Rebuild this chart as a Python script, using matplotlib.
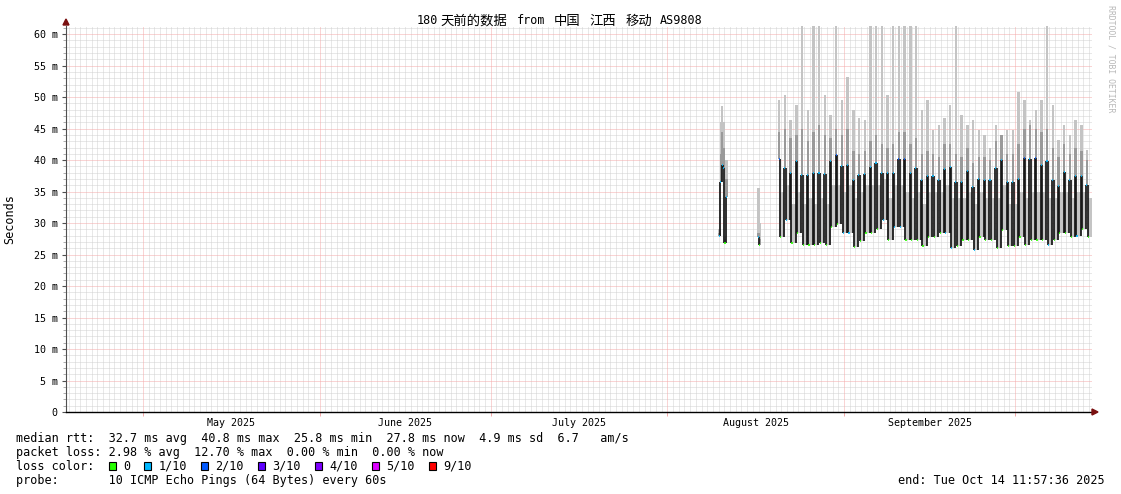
import numpy as np
import matplotlib
matplotlib.use('Agg')
import matplotlib.pyplot as plt
import matplotlib.dates as mdates
from matplotlib.patches import Rectangle, Polygon
from datetime import datetime, timedelta

# ---------------- data ----------------
title_parts = ["180", "天前的数据", "from", "中国", "江西", "移动", "AS9808"]
title_cells = [(0, 3), (3, 10), (14, 4), (19, 4), (24, 4), (29, 4), (34, 6)]  # (start cell, width cells)
y_ticks = [0, 5, 10, 15, 20, 25, 30, 35, 40, 45, 50, 55, 60]
y_tick_labels = ["0", "5 m", "10 m", "15 m", "20 m", "25 m", "30 m", "35 m",
                 "40 m", "45 m", "50 m", "55 m", "60 m"]
month_labels = ["May 2025", "June 2025", "July 2025", "August 2025", "September 2025"]

# segment 1: 6-hour steps from 2025-08-10 00:00
seg1_median = [27.9, 36.5, 39.2, 38.8, 26.8, 34.1]
seg1_dark = [28.5, 41.0, 44.4, 42.0, 27.5, 37.0]
seg1_max = [29.0, 46.0, 48.6, 46.0, 28.0, 40.0]
seg1_loss = [1, 1, 1, 1, 0, 1]

# segment 2: 6-hour steps from 2025-08-16 21:00
seg2_median = [27.8, 26.5]
seg2_dark = [28.5, 27.5]
seg2_max = [35.5, 30.0]
seg2_loss = [1, 0]

# segment 3: daily from 2025-08-20 12:00 (short evening peak, then long low)
med_hi = [40.2, 38.8, 37.9, 39.8, 37.6, 37.7, 37.9, 38.0, 37.8, 39.9,
          40.8, 39.0, 39.2, 36.8, 37.6, 37.8, 38.9, 39.6, 37.9, 38.0,
          37.9, 40.2, 40.2, 37.9, 38.8, 36.8, 37.4, 37.4, 36.8, 38.6,
          38.9, 36.5, 36.6, 38.3, 35.8, 37.0, 36.8, 36.8, 38.8, 40.0,
          36.6, 36.6, 37.0, 40.3, 40.2, 40.3, 39.2, 39.8, 36.8, 35.9,
          38.1, 36.9, 37.5, 37.4, 36.0]
med_lo = [27.8, 30.5, 26.8, 28.4, 26.6, 26.6, 26.6, 26.8, 26.6, 29.4,
          29.8, 28.4, 28.4, 26.2, 27.2, 28.4, 28.4, 29.0, 30.5, 27.3,
          29.4, 29.4, 27.3, 27.3, 27.3, 26.3, 27.8, 27.8, 28.4, 28.4,
          26.0, 26.3, 27.3, 27.3, 25.8, 27.8, 27.3, 27.3, 26.0, 28.9,
          26.3, 26.3, 27.8, 26.5, 27.3, 27.3, 27.3, 26.5, 27.3, 28.4,
          28.4, 27.8, 28.0, 29.0, 27.8]
smoke_max_hi = [49.5, 50.3, 46.3, 48.7, 61.5, 47.9, 61.5, 61.5, 50.3, 47.1,
                61.5, 49.5, 53.2, 47.9, 46.7, 46.3, 61.5, 61.5, 61.5, 50.3,
                61.5, 61.5, 61.5, 61.5, 61.5, 47.9, 49.5, 44.8, 45.6, 46.7,
                48.7, 61.5, 47.1, 45.6, 46.3, 44.8, 44.0, 42.0, 45.6, 43.2,
                44.8, 44.8, 50.8, 49.5, 46.3, 47.9, 49.5, 61.5, 48.7, 43.2,
                45.6, 44.0, 46.3, 45.6, 41.6]
smoke_dark_hi = [44.5, 45.0, 43.5, 44.0, 45.0, 43.0, 44.5, 45.5, 44.0, 43.5,
                 45.0, 44.0, 45.0, 41.5, 41.0, 41.5, 43.0, 44.0, 42.5, 42.0,
                 42.5, 44.5, 44.5, 42.5, 43.5, 41.0, 41.5, 41.0, 40.5, 42.5,
                 42.5, 41.0, 40.5, 42.0, 39.5, 40.5, 40.5, 40.0, 43.0, 44.0,
                 41.0, 41.0, 42.5, 45.0, 45.5, 45.0, 44.5, 45.0, 42.0, 40.5,
                 42.5, 41.0, 42.0, 41.5, 40.0]
smoke_max_lo = [35, 36, 33, 35, 33, 34, 33, 34, 33, 36,
                36, 35, 36, 34, 35, 36, 36, 36, 37, 34,
                36, 36, 35, 34, 35, 33, 35, 35, 35, 36,
                34, 34, 34, 35, 33, 35, 34, 34, 34, 36,
                33, 33, 35, 34, 35, 35, 35, 34, 34, 35,
                35, 34, 35, 35, 34]
loss_hi = [2, 1, 1, 1, 1, 1, 1, 1, 1, 1,
           2, 1, 1, 1, 1, 1, 1, 1, 1, 1,
           1, 2, 2, 1, 1, 1, 1, 1, 1, 1,
           1, 1, 1, 1, 1, 1, 1, 1, 1, 1,
           1, 1, 1, 2, 1, 2, 1, 1, 1, 1,
           1, 1, 1, 1, 1]
loss_lo = [0, 1, 0, 0, 0, 0, 0, 0, 0, 0,
           0, 1, 1, 0, 0, 0, 0, 0, 1, 0,
           1, 1, 0, 0, 0, 0, 0, 0, 0, 1,
           1, 0, 0, 0, 1, 0, 0, 0, 0, 0,
           0, 0, 0, 0, 0, 0, 0, 1, 0, 0,
           0, 0, 1, 0, 0]

loss_levels = [0, 1, 2, 3, 4, 5, 9]
loss_names = ["0", "1/10", "2/10", "3/10", "4/10", "5/10", "9/10"]
loss_colors = ["#26ff00", "#00b8ff", "#0059ff", "#5e00ff", "#7e00ff", "#dd00ff", "#ff0000"]

legend_lines = [
    "median rtt:  32.7 ms avg  40.8 ms max  25.8 ms min  27.8 ms now  4.9 ms sd  6.7   am/s",
    "packet loss: 2.98 % avg  12.70 % max  0.00 % min  0.00 % now",
    "loss color:",
    "probe:       10 ICMP Echo Pings (64 Bytes) every 60s",
]
end_text = "end: Tue Oct 14 11:57:36 2025"

# ---------------- figure ----------------
W, H = 1121, 494
fig = plt.figure(figsize=(W / 100, H / 100), dpi=100)
fig.patch.set_facecolor('white')
MONO = 'DejaVu Sans Mono'
CJK = 'Noto Sans CJK SC'

def fx(x):
    return x / W

def fy(y):
    return 1 - y / H

L, R, T, B = 66, 1092, 26, 412
ax = fig.add_axes([fx(L), fy(B), (R - L) / W, (B - T) / H])
ax.set_facecolor('white')

t_start = datetime(2025, 4, 17, 11, 57, 36)
t_end = datetime(2025, 10, 14, 11, 57, 36)
x0, x1 = mdates.date2num(t_start), mdates.date2num(t_end)
ax.set_xlim(x0, x1)
ax.set_ylim(0, 61.3)

MINOR_C = '#d2d2d2'
MAJOR_C = '#f4aaaa'
dot = (0, (1, 1))
for v in range(1, 62):
    if v % 5:
        ax.axhline(v, color=MINOR_C, lw=0.72, ls=dot, zorder=0)
d = datetime(2025, 4, 18)
while d < t_end:
    if d.day != 1:
        ax.axvline(mdates.date2num(d), color=MINOR_C, lw=0.72, ls=dot, zorder=0)
    d += timedelta(days=1)
for v in range(5, 62, 5):
    ax.axhline(v, color=MAJOR_C, lw=0.72, ls=dot, zorder=1)
month_starts = [datetime(2025, m, 1) for m in range(5, 11)]
for m in month_starts:
    ax.axvline(mdates.date2num(m), color=MAJOR_C, lw=0.72, ls=dot, zorder=1)

# ---------------- smoke + median ----------------
LIGHT = '#c4c4c4'
DARK = '#9a9a9a'
MED_C = '#151515'
cmap = dict(zip(loss_levels, loss_colors))
CAP = 5.0 / 24      # length of the coloured median mark (days)
SMOKE_W = 0.42      # minimum width of a smoke column (days)

def draw_series(tb, med, dark, mx, loss):
    """tb: n+1 boundaries (matplotlib date numbers)"""
    med = np.asarray(med, float)
    dark = np.asarray(dark, float)
    mx = np.asarray(mx, float)
    tb = np.asarray(tb, float)
    w = np.diff(tb)
    centers = tb[:-1] + w / 2
    sw = np.maximum(w, SMOKE_W)
    # light smoke for long periods first, then peak columns on top
    order = np.argsort(-w)
    ax.bar(centers[order], (mx - med)[order], bottom=med[order], width=sw[order],
           align='center', color=LIGHT, linewidth=0, zorder=2)
    ax.bar(centers, np.maximum(dark - med, 0), bottom=med, width=sw,
           align='center', color=DARK, linewidth=0, zorder=3)
    ax.vlines(tb[1:-1], med[:-1], med[1:], color=MED_C, lw=1.25, zorder=4)
    ax.hlines(med, tb[:-1], tb[:-1] + np.minimum(w, CAP),
              colors=[cmap[l] for l in loss], lw=1.2, zorder=5)

def regular(t0, step_h, n):
    return mdates.date2num(t0) + np.arange(n + 1) * step_h / 24.0

draw_series(regular(datetime(2025, 8, 10, 0, 0), 6, len(seg1_median)),
            seg1_median, seg1_dark, seg1_max, seg1_loss)
draw_series(regular(datetime(2025, 8, 16, 21, 0), 6, len(seg2_median)),
            seg2_median, seg2_dark, seg2_max, seg2_loss)

PEAK_H = 6.0  # duration of each evening peak (hours)
days = mdates.date2num(datetime(2025, 8, 20, 12, 0)) + np.arange(len(med_hi))
tb3 = np.append(np.column_stack([days, days + PEAK_H / 24]).ravel(), mdates.date2num(t_end))
med3 = np.column_stack([med_hi, med_lo]).ravel()
dark3 = np.column_stack([smoke_dark_hi, med_lo]).ravel()
max3 = np.column_stack([smoke_max_hi, smoke_max_lo]).ravel()
loss3 = np.column_stack([loss_hi, loss_lo]).ravel()
draw_series(tb3, med3, dark3, max3, loss3)

# ---------------- axes styling ----------------
for s in ['top', 'right']:
    ax.spines[s].set_visible(False)
ax.spines['left'].set_color('#505050')
ax.spines['left'].set_linewidth(0.8)
ax.spines['bottom'].set_color('black')
ax.spines['bottom'].set_linewidth(1.0)
ax.spines['left'].set_zorder(6)
ax.spines['bottom'].set_zorder(6)

ax.set_yticks(y_ticks)
ax.set_yticklabels(y_tick_labels, family=MONO, fontsize=7.2)
ax.set_yticks(range(1, 62), minor=True)
ax.tick_params(axis='y', which='major', length=3, width=0.8, color='#505050', pad=3)
ax.tick_params(axis='y', which='minor', length=2, width=0.6, color='#a0a0a0')

mid_months = [mdates.date2num(m) + (15.5 if m.month in (5, 7, 8) else 15.0)
              for m in month_starts[:5]]
ax.set_xticks(mid_months)
ax.set_xticklabels(month_labels, family=MONO, fontsize=7.2)
ax.tick_params(axis='x', which='major', length=0, pad=4)
ax.set_xticks([mdates.date2num(m) for m in month_starts], minor=True)
ax.tick_params(axis='x', which='minor', length=3, width=0.7, color=MAJOR_C)

# arrows
fig.patches.append(Polygon([(fx(L - 3), fy(25)), (fx(L + 3), fy(25)), (fx(L), fy(19))],
                           closed=True, transform=fig.transFigure, color='#7a1010', zorder=10))
fig.patches.append(Polygon([(fx(R), fy(409)), (fx(R), fy(415)), (fx(R + 6), fy(412))],
                           closed=True, transform=fig.transFigure, color='#7a1010', zorder=10))

# ---------------- texts ----------------
CW = 7.15
TX = 417
for part, (c0, nc) in zip(title_parts, title_cells):
    is_cjk = any(ord(ch) > 0x2E80 for ch in part)
    fig.text(fx(TX + (c0 + nc / 2) * CW), fy(21), part, ha='center', va='center',
             fontsize=9.6 if is_cjk else 8.5, family=[MONO, CJK])
fig.text(fx(10), fy(219), "Seconds", rotation=90, ha='center', va='center',
         fontsize=8.5, family=MONO)
fig.text(fx(1111), fy(5), "RRDTOOL / TOBI OETIKER", rotation=270, ha='center', va='top',
         fontsize=5.9, family=MONO, color='#b8b8b8')

LX = 16
line_y = [438, 452, 466, 480]
for txt, yy in zip(legend_lines, line_y):
    fig.text(fx(LX), fy(yy), txt, ha='left', va='center', fontsize=8.5, family=MONO)
fig.text(fx(1105), fy(480), end_text, ha='right', va='center', fontsize=8.5, family=MONO)

box_idx = [13, 18, 26, 34, 42, 50, 58]
for idx, name, col in zip(box_idx, loss_names, loss_colors):
    bx = LX + idx * 7.12
    fig.patches.append(Rectangle((fx(bx), fy(470)), 7 / W, 8 / H, transform=fig.transFigure,
                                 facecolor=col, edgecolor='black', lw=0.8, zorder=10))
    fig.text(fx(LX + (idx + 2) * 7.12), fy(466), name, ha='left', va='center',
             fontsize=8.5, family=MONO)

fig.savefig('out.png', dpi=100, facecolor='white')
